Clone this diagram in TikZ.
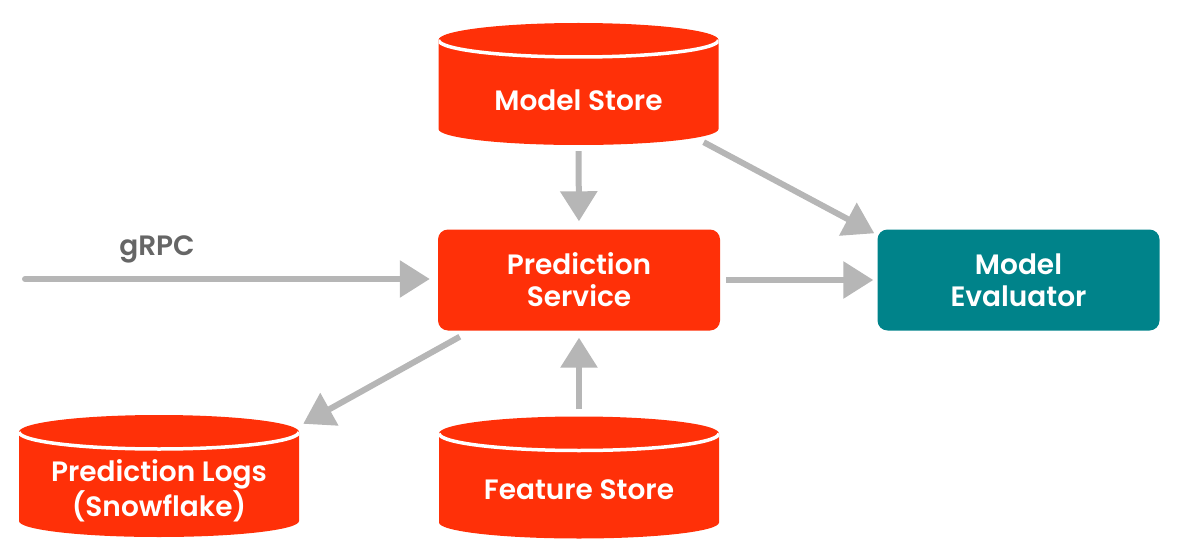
\documentclass[tikz,border=0pt]{standalone}
\usepackage{fontspec}
\setmainfont{Poppins}[UprightFont=* SemiBold]
\usetikzlibrary{arrows.meta,calc}
\definecolor{ddred}{HTML}{FF3008}
\definecolor{ddteal}{HTML}{00838A}
\definecolor{arrgray}{HTML}{B6B6B6}
\definecolor{txtgray}{HTML}{666666}
\begin{document}
\begin{tikzpicture}[x=1pt,y=-1pt,
  lbl/.style={font=\fontsize{28}{32}\selectfont, align=center, inner sep=0pt},
  box/.style={lbl, rounded corners=10pt, minimum width=282pt, minimum height=101pt, text=white},
  psbox/.style={box, fill=ddred},
  mebox/.style={box, fill=ddteal},
  cyl/.style={minimum width=280pt, minimum height=122pt, inner sep=0pt,
    path picture={
      \fill[ddred] let \p1=(path picture bounding box.north west),
                       \p2=(path picture bounding box.south east),
                       \n1={(\x2-\x1)/2} in
        (\x1,\y1-17pt) arc[start angle=180,end angle=0,x radius=\n1,y radius=17pt]
        -- (\x2,\y2+16pt) arc[start angle=0,end angle=-180,x radius=\n1,y radius=16pt] -- cycle;
      \draw[white,line width=3.5pt] let \p1=(path picture bounding box.north west),
                       \p2=(path picture bounding box.south east),
                       \n1={(\x2-\x1)/2} in
        (\x1,\y1-17pt) arc[start angle=180,end angle=360,x radius=\n1,y radius=17pt];
    }},
  cyltext/.style={lbl, text=white},
  arr/.style={draw=arrgray, line width=6pt, -{Triangle[length=30pt,width=36pt]}},
]
\useasboundingbox (0,0) rectangle (1200,559);

% nodes
\node[cyl] (ms) at (578.5,84) {};
\node[cyltext] (mstxt) at ($(ms.center)+(0,16)$) {Model Store};
\node[psbox] (ps) at (579,280) {Prediction\\Service};
\node[mebox] (me) at (1018.5,280) {Model\\Evaluator};
\node[cyl] (pl) at (159,476) {};
\node[cyltext] (pltxt) at ($(pl.center)+(0,15)$) {Prediction Logs\\(Snowflake)};
\node[cyl] (fs) at (579,477.5) {};
\node[cyltext] (fstxt) at ($(fs.center)+(0,12.5)$) {Feature Store};
\node[lbl, text=txtgray] (grpclbl) at (157,249) {gRPC};
\coordinate (grpc) at (25,279);

% connectors
\draw[arr, line cap=round] (grpc) -- (ps.west |- grpc) [shorten >=8pt];
\draw[arr, shorten <=6pt, shorten >=8pt] (ms.south) -- (ps.north);
\draw[arr, shorten <=6pt, shorten >=4pt] (ps.east) -- (me.west);
\draw[arr] ($(ms.south east)+(-15,-3)$) -- ($(me.north west)+(-3,4)$);
\draw[arr] ($(ps.south west)+(22,6)$) -- ($(pl.north east)+(4,9)$);
\draw[arr, shorten <=7pt, shorten >=7pt] (fs.north) -- (ps.south);
\end{tikzpicture}
\end{document}
